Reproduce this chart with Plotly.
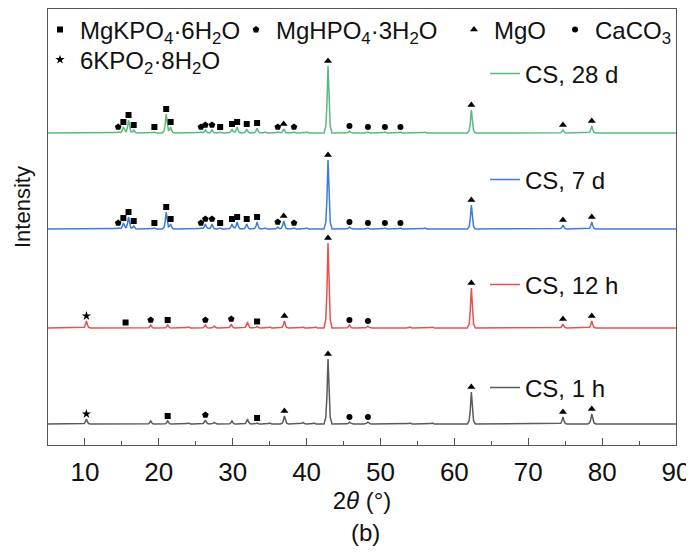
import numpy as np
import plotly.graph_objects as go

# ---------------- data ----------------
# peak positions (2theta, deg), peak heights (a.u. above each pattern's baseline), phase tag
two_theta_28d = [14.5, 15.2, 15.9, 16.6, 19.4, 21.0, 21.6, 25.7, 26.3, 27.2, 28.3, 29.9, 30.6,
                 31.9, 33.3, 34.4, 36.1, 36.9, 38.3, 40.0, 42.9, 45.8, 48.3, 50.6, 52.7, 56.0,
                 62.3, 74.7, 78.6]
height_28d = [1, 6, 13, 3, 1, 19, 6, 1, 3, 3, 1, 4, 6,
              4, 5, 1, 1, 4, 1, 1, 67, 2, 1, 1, 1, 1,
              23, 3, 7]
phase_28d = ["H", "K", "K", "K", "K", "K", "K", "H", "H", "H", "K", "K", "K",
             "K", "K", "", "H", "M", "H", "", "M", "C", "C", "C", "C", "",
             "M", "M", "M"]

two_theta_7d = [14.5, 15.2, 15.9, 16.6, 19.4, 21.0, 21.6, 25.7, 26.3, 27.2, 28.3, 29.9, 30.6,
                31.9, 33.3, 34.4, 36.1, 36.9, 38.3, 40.0, 42.9, 45.8, 48.3, 50.6, 52.7, 56.0,
                62.3, 74.7, 78.6]
height_7d = [1, 6, 12, 3, 1, 17, 5, 1, 5, 5, 1, 5, 7,
             5, 7, 1, 2, 8, 1, 1, 69, 2, 1, 1, 1, 1,
             24, 4, 7]
phase_7d = ["H", "K", "K", "K", "K", "K", "K", "H", "H", "H", "K", "K", "K",
            "K", "K", "", "H", "M", "H", "", "M", "C", "C", "C", "C", "",
            "M", "M", "M"]

two_theta_12h = [10.2, 15.5, 18.9, 21.2, 24.0, 26.3, 27.5, 29.8, 32.0, 33.3, 35.0, 37.0, 39.5,
                 41.2, 42.9, 45.8, 48.3, 54.0, 57.0, 62.3, 74.7, 78.6]
height_12h = [7, 0.5, 3, 3, 1, 3, 2, 4, 6, 1.5, 1, 7, 1,
              1, 85, 3, 2, 1, 1, 40, 4, 7]
phase_12h = ["S", "K", "H", "K", "", "H", "", "H", "", "K", "", "M", "",
             "", "M", "C", "C", "", "", "M", "M", "M"]

two_theta_1h = [10.2, 18.9, 21.2, 24.0, 26.3, 27.5, 29.9, 32.0, 33.3, 35.0, 37.0, 39.5, 41.0,
                42.9, 45.8, 48.3, 54.0, 57.0, 62.3, 74.7, 78.6]
height_1h = [5, 3, 3, 1, 4, 1.5, 3, 5, 1, 1, 8, 1.5, 1,
             65, 2, 2, 1, 1, 32, 7, 10]
phase_1h = ["S", "", "K", "", "H", "", "", "", "K", "", "M", "", "",
            "M", "C", "C", "", "", "M", "M", "M"]

series_names = ["CS, 28 d", "CS, 7 d", "CS, 12 h", "CS, 1 h"]
baseline_offsets = [312, 216, 117, 21]

phase_keys = ["K", "H", "M", "C", "S"]
phase_labels = ["MgKPO<sub>4</sub>·6H<sub>2</sub>O", "MgHPO<sub>4</sub>·3H<sub>2</sub>O", "MgO",
                "CaCO<sub>3</sub>", "6KPO<sub>2</sub>·8H<sub>2</sub>O"]

x_ticks = [10, 20, 30, 40, 50, 60, 70, 80, 90]

# ---------------- styles ----------------
line_colors = ["#5cb97c", "#3e7cd8", "#e8514f", "#5b5b5b"]
phase_symbols = ["square", "pentagon", "triangle-up", "circle", "star"]
phase_sizes = [6, 7, 7, 6, 7]
FONT = "Arial, 'Liberation Sans', sans-serif"
AXC = "#555555"
PEAK_DX = np.array([-0.55, -0.3, -0.15, 0.0, 0.15, 0.3, 0.55])
PEAK_FR = np.array([0.0, 0.1, 0.42, 1.0, 0.42, 0.1, 0.0])
MARK_GAP = 5

all_pos = [two_theta_28d, two_theta_7d, two_theta_12h, two_theta_1h]
all_h = [height_28d, height_7d, height_12h, height_1h]
all_ph = [phase_28d, phase_7d, phase_12h, phase_1h]


def profile(pos, h):
    xs = {5.0, 90.0}
    for p in pos:
        xs.update(np.round(p + PEAK_DX, 4).tolist())
    xs = np.array(sorted(xs))
    ys = np.zeros_like(xs)
    for p, hh in zip(pos, h):
        ys += hh * np.interp(xs, p + PEAK_DX, PEAK_FR)
    return xs, ys


fig = go.Figure()

for i, name in enumerate(series_names):
    xs, ys = profile(all_pos[i], all_h[i])
    fig.add_trace(go.Scatter(
        x=xs, y=ys + baseline_offsets[i], mode="lines", name=name,
        line=dict(color=line_colors[i], width=1.5),
        legend=f"legend{6 + i}", hoverinfo="skip"))

for k, key in enumerate(phase_keys):
    mx, my = [], []
    for i in range(len(series_names)):
        for p, hh, ph in zip(all_pos[i], all_h[i], all_ph[i]):
            if ph == key:
                mx.append(p)
                my.append(baseline_offsets[i] + hh + MARK_GAP)
    fig.add_trace(go.Scatter(
        x=mx, y=my, mode="markers", name=phase_labels[k],
        marker=dict(symbol=phase_symbols[k], size=phase_sizes[k], color="black"),
        legend="legend" if k == 0 else f"legend{k + 1}", hoverinfo="skip"))

# page layout (the html body adds an 8 px offset)
BODY = 8
FIG_W, FIG_H = 694 - BODY, 553 - BODY
W0, W1, T0, B0 = 48, 676, 9, 445   # plot-area edges in page pixels


def px(xp):
    return (xp - W0) / (W1 - W0)


def py(yp):
    return (B0 - yp) / (B0 - T0)


leg_common = dict(bgcolor="rgba(0,0,0,0)", borderwidth=0, orientation="h",
                  xanchor="left", yanchor="middle", font=dict(family=FONT, size=24, color="#111"))
layout_legends = {}
phase_leg_x = [76, 272, 490, 591, 76]
phase_leg_y = [30, 30, 30, 30, 60]
for k in range(5):
    key = "legend" if k == 0 else f"legend{k + 1}"
    layout_legends[key] = dict(leg_common, x=px(phase_leg_x[k] - 36), y=py(phase_leg_y[k]))
series_leg_y = [74, 180, 285, 388]
for i in range(4):
    layout_legends[f"legend{6 + i}"] = dict(leg_common, x=px(529 - 44), y=py(series_leg_y[i]))

fig.update_layout(
    width=FIG_W, height=FIG_H,
    margin=dict(l=W0 - BODY, r=FIG_W - (W1 - BODY), t=T0 - BODY, b=FIG_H - (B0 - BODY),
                autoexpand=False),
    paper_bgcolor="white", plot_bgcolor="white",
    font=dict(family=FONT, color="#111"),
    showlegend=True,
    **layout_legends,
    xaxis=dict(range=[5, 90], tickvals=x_ticks, ticks="inside", ticklen=7, tickwidth=1.2,
               tickcolor=AXC, minor=dict(ticks="inside", ticklen=4, dtick=5, tick0=5, tickcolor=AXC),
               showline=True, linecolor=AXC, linewidth=1.3, mirror=True,
               showgrid=False, zeroline=False, tickfont=dict(size=26, color="#111"),
               ticklabelstandoff=4, automargin=False,
               title=dict(text="2<i>θ</i> (°)", font=dict(size=24, color="#111"), standoff=0)),
    yaxis=dict(range=[0, 436], showticklabels=False, ticks="", showline=True, linecolor=AXC,
               linewidth=1.3, mirror=True, showgrid=False, zeroline=False, automargin=False),
    annotations=[
        dict(text="Intensity", textangle=-90, xref="paper", yref="paper", x=px(22), y=py(207),
             xanchor="center", yanchor="middle",
             showarrow=False, font=dict(size=22, color="#111")),
        dict(text="(b)", xref="paper", yref="paper", x=px(365), y=py(532),
             xanchor="center", yanchor="middle",
             showarrow=False, font=dict(size=24, color="#111")),
    ],
)

fig.write_html("out.html")
